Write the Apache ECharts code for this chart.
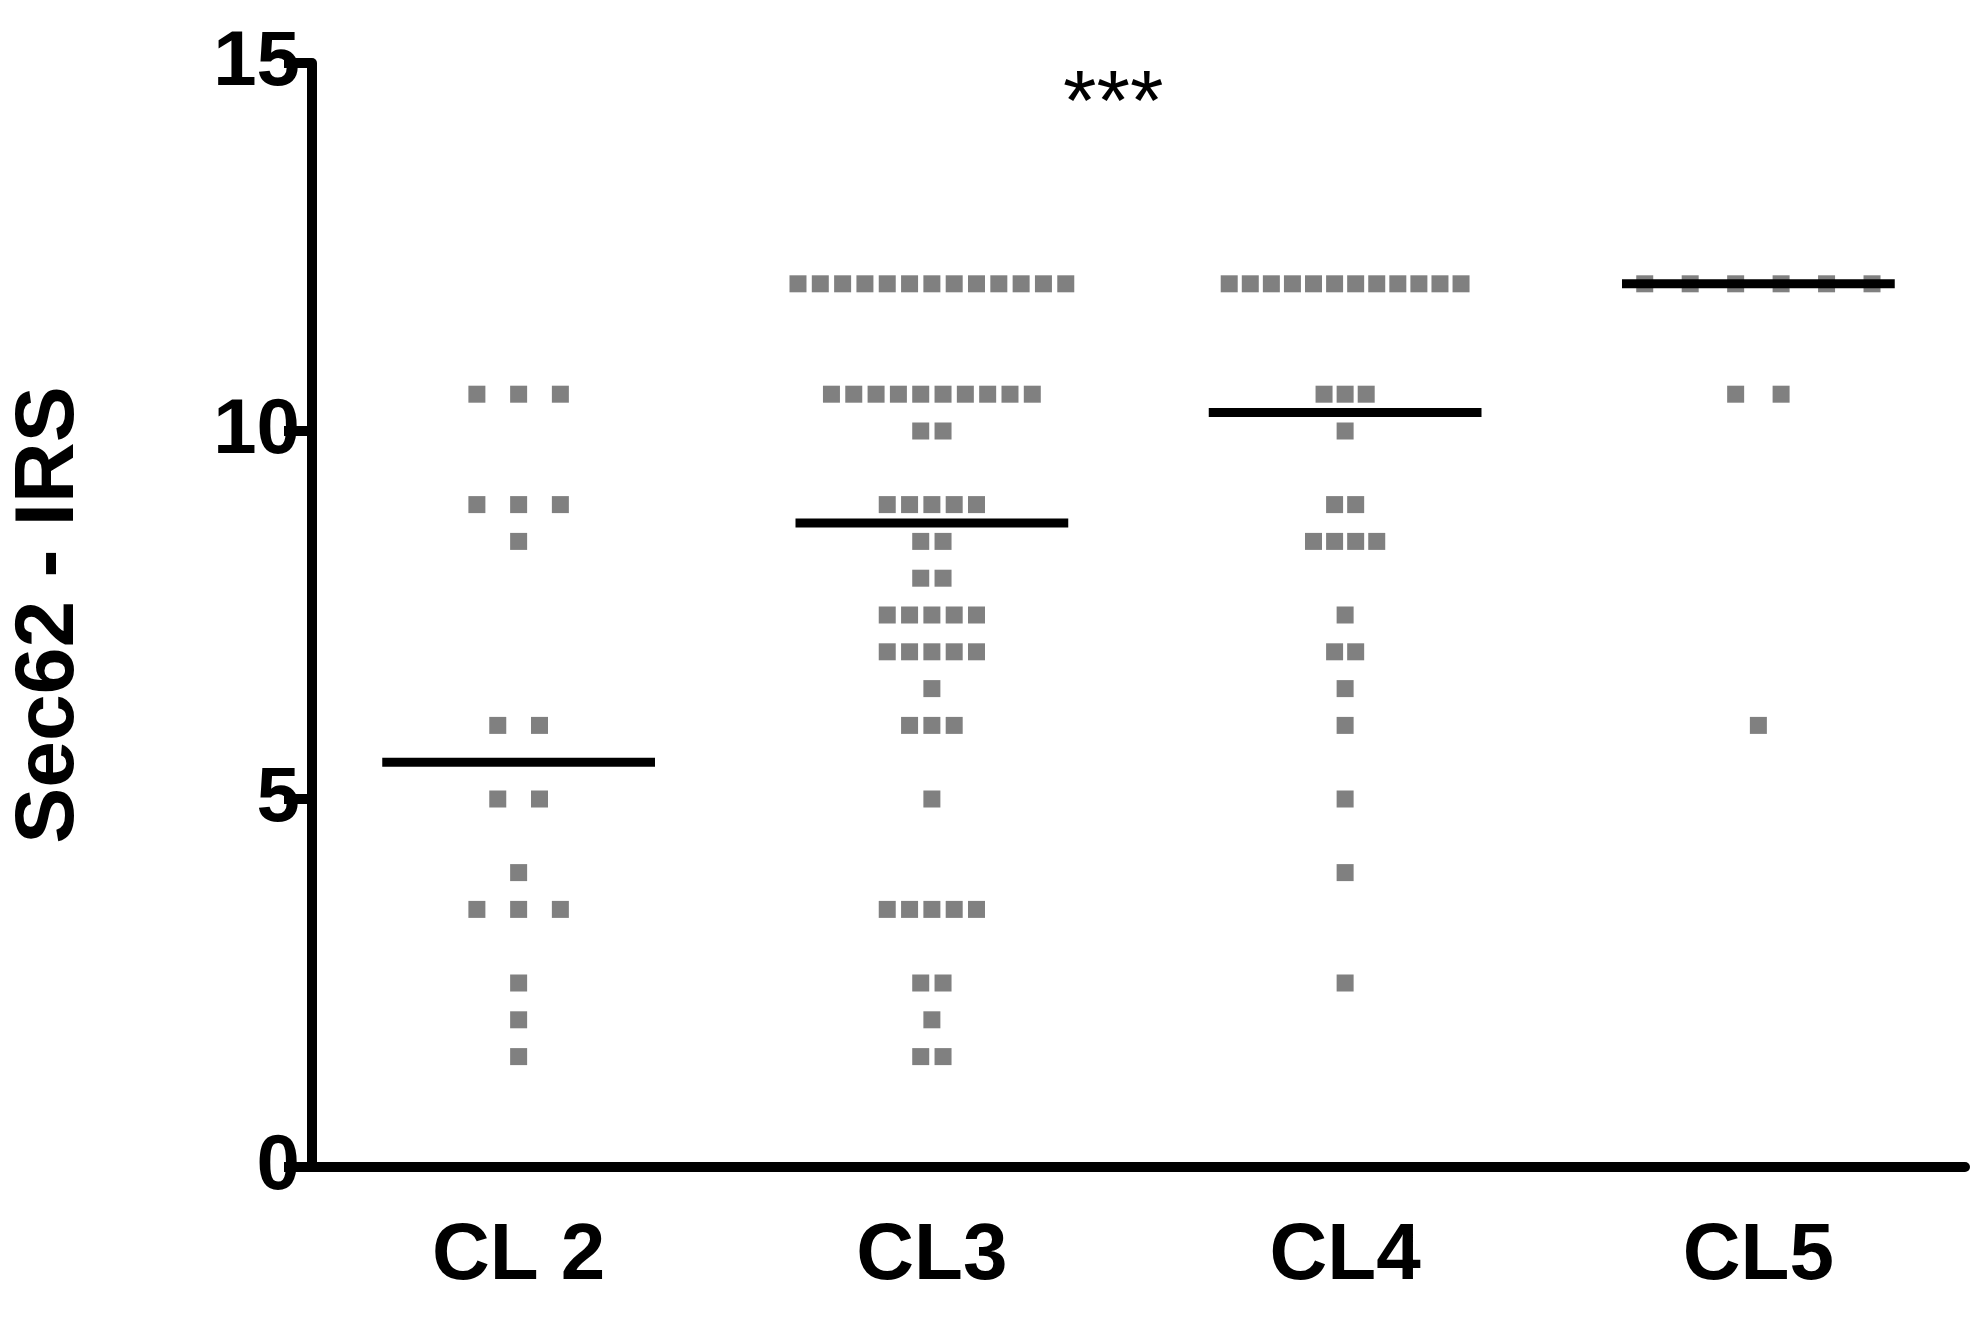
<!DOCTYPE html>
<html>
<head>
<meta charset="UTF-8">
<title>Sec62 IRS</title>
<script src="https://cdn.jsdelivr.net/npm/echarts@6/dist/echarts.min.js"></script>
<style>html,body{margin:0;background:#fff}#main{width:1983px;height:1317px}</style>
</head>
<body>
<div id="main"></div>
<script>
var categories = ['CL 2', 'CL3', 'CL4', 'CL5'];
var yTicks = [0, 5, 10, 15];
// value: count of patients, per group
var cl2 = [[10.5,3],[9,3],[8.5,1],[6,2],[5,2],[4,1],[3.5,3],[2.5,1],[2,1],[1.5,1]];
var cl3 = [[12,13],[10.5,10],[10,2],[9,5],[8.5,2],[8,2],[7.5,5],[7,5],[6.5,1],[6,3],[5,1],[3.5,5],[2.5,2],[2,1],[1.5,2]];
var cl4 = [[12,12],[10.5,3],[10,1],[9,2],[8.5,4],[7.5,1],[7,2],[6.5,1],[6,1],[5,1],[4,1],[2.5,1]];
var cl5 = [[12,6],[10.5,2],[6,1]];
var medians = [5.5, 8.75, 10.25, 12];
var groups = [cl2, cl3, cl4, cl5];
var spread = [0.101, 0.054, 0.051, 0.11];   // horizontal dot spacing per group

var points = [];
groups.forEach(function (g, gi) {
    g.forEach(function (row) {
        for (var i = 0; i < row[1]; i++) {
            points.push([gi + (i - (row[1] - 1) / 2) * spread[gi], row[0]]);
        }
    });
});

var chart = echarts.init(document.getElementById('main'));
var font = 'Liberation Sans, Arial, sans-serif';
chart.setOption({
    animation: false,
    grid: {left: 309, right: 18, top: 63, bottom: 150},
    title: {text: '***', left: 1058, top: 58, textStyle: {fontSize: 86, fontWeight: 'normal', color: '#000', fontFamily: font}},
    xAxis: [{
        type: 'category', data: categories,
        axisLine: {lineStyle: {color: '#000', width: 10}},
        axisTick: {alignWithLabel: true, length: 28, lineStyle: {color: '#000', width: 10}},
        axisLabel: {fontSize: 80, fontWeight: 'bold', color: '#000', fontFamily: font, margin: 50}
    }, {
        type: 'value', min: -0.5, max: 3.5, show: false
    }],
    yAxis: {
        type: 'value', min: 0, max: 15, interval: 5,
        name: 'Sec62 - IRS', nameLocation: 'middle', nameGap: 220,
        nameTextStyle: {fontSize: 84, fontWeight: 'bold', color: '#000', fontFamily: font},
        axisLine: {show: true, onZero: false, lineStyle: {color: '#000', width: 10}},
        axisTick: {show: true, length: 28, lineStyle: {color: '#000', width: 10}},
        axisLabel: {fontSize: 78, fontWeight: 'bold', color: '#000', fontFamily: font, margin: 12,
            formatter: function (v) { return yTicks.indexOf(v) >= 0 ? v : ''; }},
        splitLine: {show: false}
    },
    series: [{
        type: 'scatter', xAxisIndex: 1, data: points,
        symbol: 'rect', symbolSize: 17, itemStyle: {color: '#606060'}
    }, {
        type: 'custom', xAxisIndex: 1,
        data: medians.map(function (m, i) { return [i, m]; }),
        renderItem: function (params, api) {
            var a = api.coord([api.value(0) - 0.33, api.value(1)]);
            var b = api.coord([api.value(0) + 0.33, api.value(1)]);
            return {type: 'line', shape: {x1: a[0], y1: a[1], x2: b[0], y2: b[1]},
                style: {stroke: '#000', lineWidth: 9}};
        },
        z: 5
    }]
});
</script>
</body>
</html>
